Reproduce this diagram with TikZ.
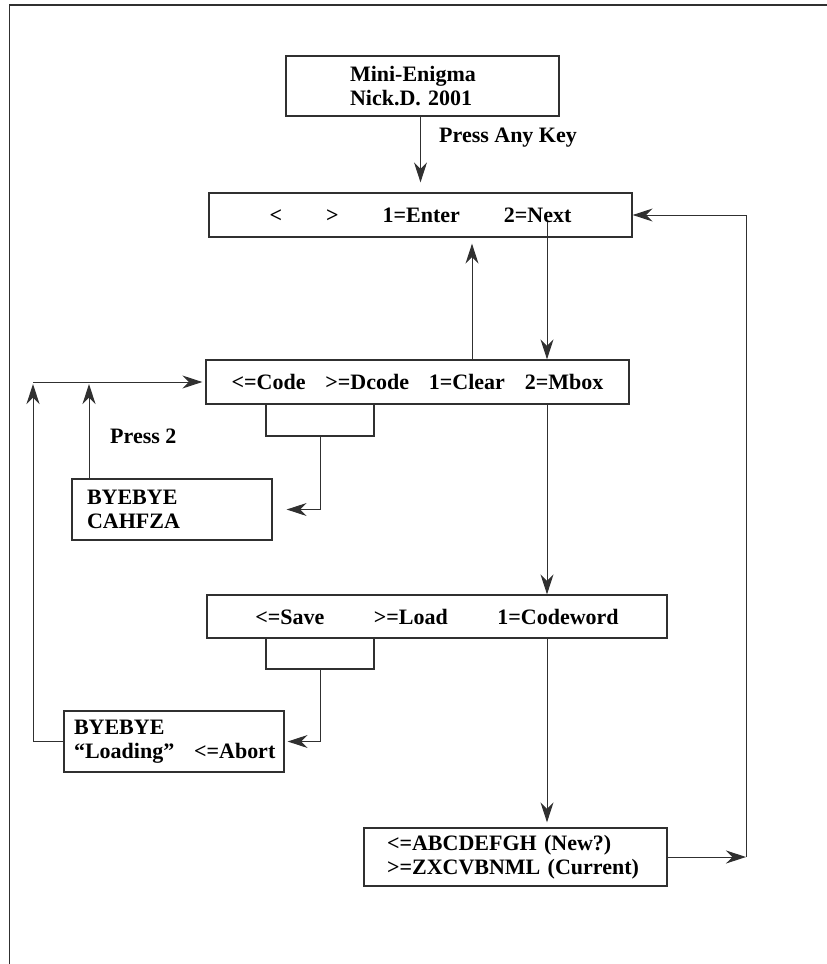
\documentclass[tikz,border=0pt]{standalone}
\usepackage{fontspec}
\setmainfont{Liberation Serif}
\usetikzlibrary{arrows.meta,positioning}
\definecolor{linegray}{HTML}{303030}

\begin{document}
\begin{tikzpicture}[x=1pt, y=-1pt, font=\fontsize{22}{24.5}\selectfont\bfseries]
\tikzstyle{block} = [rectangle, draw=linegray, line width=1.3pt, inner sep=0pt, minimum height=44pt]
\tikzstyle{leftblock} = [block, align=left, minimum height=61pt]
\tikzstyle{tab} = [rectangle, draw=linegray, line width=1.3pt, minimum width=108pt, minimum height=32pt]
\tikzstyle{arrow} = [-{Stealth[length=20pt,width=13pt]}, line width=1pt, draw=linegray]
\tikzstyle{frame} = [line width=1.6pt, draw=linegray]
\useasboundingbox (0,0) rectangle (827,964);
\draw[frame] (9.5,964) -- (9.5,5) -- (827,5);

% screens
\node[leftblock, text width=145pt, inner xsep=64pt, minimum height=60pt] (title) at (422.5,86) {Mini-Enigma\\Nick.D. 2001};
\node[block, minimum width=423pt] (menu) at (420.5,215) {<\hspace{2em}>\hspace{2em}1=Enter\hspace{2em}2=Next};
\node[block, minimum width=423pt] (codebox) at (417.5,382) {<=Code\hspace{0.9em}>=Dcode\hspace{0.9em}1=Clear\hspace{0.9em}2=Mbox};
\node[tab] (codetab) at (320,420) {};
\node[leftblock, text width=170pt, inner xsep=15pt] (byecode) at (172,509.5) {BYEBYE\\CAHFZA};
\node[block, minimum width=460pt, minimum height=43pt] (mbox) at (437,616.5) {<=Save\hspace{2.25em}>=Load\hspace{2.25em}1=Codeword};
\node[tab, minimum height=31pt] (mboxtab) at (320,653.5) {};
\node[leftblock, text width=210pt, inner xsep=5pt] (byeload) at (174,741.5) {\hspace*{5pt}BYEBYE\\\hspace*{5pt}“Loading”\hspace{0.9em}<=Abort};
\node[leftblock, text width=257pt, inner xsep=23pt, minimum height=58pt] (wheel) at (515.5,857) {<=ABCDEFGH (New?)\\>=ZXCVBNML (Current)};

% labels
\node[anchor=west, inner sep=0pt] (anykey) at (439,138) {Press Any Key};
\node[anchor=west, inner sep=0pt] (press2) at (110,436) {Press 2};

% turning points
\coordinate (upx) at (472,0);
\coordinate (nextx) at (547,222);
\coordinate (loop) at (746,856);
\coordinate (leftpt) at (33,382);
\coordinate (presspt) at (89,382);

\draw[arrow, shorten >=10pt] (title.south -| menu.north) -- (menu.north);
\draw[arrow, shorten >=6pt] (codebox.north -| upx) -- (menu.south -| upx);
\draw[arrow] (nextx) -- (codebox.north -| nextx);
\draw[arrow] (codebox.south -| nextx) -- (mbox.north -| nextx);
\draw[arrow, shorten >=5pt] (mbox.south -| nextx) -- (wheel.north -| nextx);
\draw[arrow] (wheel.east) -- (wheel.east -| loop);
\draw[arrow] (wheel.east -| loop) |- (menu.east);
\draw[arrow, shorten >=14pt] (codetab.south) |- (byecode.east);
\draw[arrow, shorten >=2pt] (byecode.north -| presspt) -- (presspt);
\draw[arrow, shorten >=3pt] (leftpt) -- (codebox.west |- leftpt);
\draw[arrow, shorten >=2pt] (byeload.west) -| (leftpt);
\draw[arrow, shorten >=3pt] (mboxtab.south) |- (byeload.east);
\end{tikzpicture}
\end{document}
